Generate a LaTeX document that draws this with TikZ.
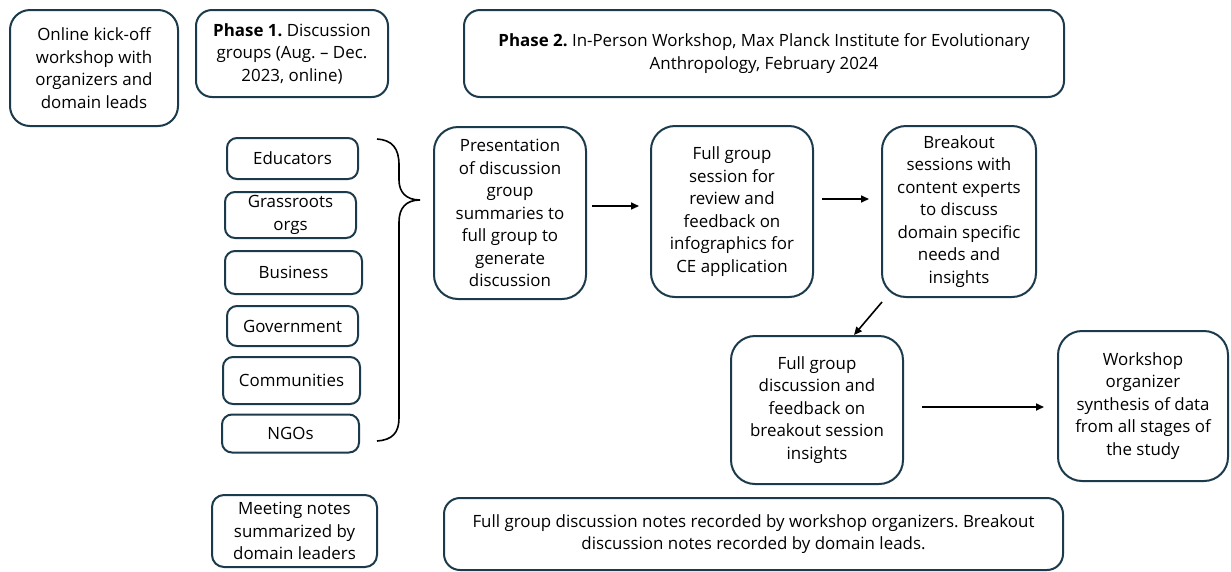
\documentclass[tikz,border=0pt]{standalone}
\usepackage{fontspec}
\setmainfont{Open Sans}
\usetikzlibrary{arrows.meta}
\definecolor{bc}{HTML}{1B3A4B}
\frenchspacing
\tikzset{
  box/.style={draw=bc, line width=2pt, rounded corners=20pt, align=center, inner sep=0pt,
    font=\fontsize{16.9}{22.5}\selectfont},
  sbox/.style={box, rounded corners=10pt},
  arr/.style={line width=1.6pt, -{Triangle[length=8pt,width=7pt]}}
}
\begin{document}
\begin{tikzpicture}[x=1pt,y=-1pt]
\useasboundingbox (0,0) rectangle (1231,571);
\node[box, minimum width=168, minimum height=116] (kick) at (94,68) {Online kick-off\\workshop with\\organizers and\\domain leads};
\node[box, rounded corners=16pt, minimum width=192, minimum height=87] (ph1) at (292,53.5) {\textbf{Phase 1.} Discussion\\groups (Aug. – Dec.\\2023, online)};
\node[box, rounded corners=16pt, minimum width=600, minimum height=87] (ph2) at (764,53.5) {\textbf{Phase 2.} In-Person Workshop, Max Planck Institute for Evolutionary\\Anthropology, February 2024};
\node[sbox, minimum width=131, minimum height=41] (edu) at (292.5,158.5) {Educators};
\node[sbox, minimum width=131, minimum height=46] (grass) at (290.5,215) {Grassroots\\orgs};
\node[sbox, minimum width=137, minimum height=43] (bus) at (293.5,272.5) {Business};
\node[sbox, minimum width=131, minimum height=40] (gov) at (292.5,326) {Government};
\node[sbox, minimum width=137, minimum height=47] (comm) at (291.5,380.5) {Communities};
\node[sbox, minimum width=137, minimum height=38] (ngo) at (290.5,433.5) {NGOs};
\node[box, rounded corners=24pt, minimum width=152, minimum height=172] (pres) at (510,213) {Presentation\\of discussion\\group\\summaries to\\full group to\\generate\\discussion};
\node[box, rounded corners=24pt, minimum width=162, minimum height=171] (fgs) at (732,211.5) {Full group\\session for\\review and\\feedback on\\infographics for\\CE application};
\node[box, rounded corners=24pt, minimum width=154, minimum height=171] (brk) at (959,211.5) {Breakout\\sessions with\\content experts\\to discuss\\domain specific\\needs and\\insights};
\node[box, rounded corners=24pt, minimum width=172, minimum height=148] (fgd) at (817,410) {Full group\\discussion and\\feedback on\\breakout session\\insights};
\node[box, rounded corners=24pt, minimum width=170, minimum height=150] (wso) at (1143,406) {Workshop\\organizer\\synthesis of data\\from all stages of\\the study};
\node[box, rounded corners=12pt, minimum width=165, minimum height=72] (meet) at (294.5,531) {Meeting notes\\summarized by\\domain leaders};
\node[box, rounded corners=16pt, minimum width=619, minimum height=72] (fgn) at (753.5,534) {Full group discussion notes recorded by workshop organizers. Breakout\\discussion notes recorded by domain leads.};
% brace
\draw[line width=1.6pt, black] (377,139) .. controls (392,140) and (399,148) .. (399,165)
  -- (399,180) .. controls (399,192) and (406,200) .. (420,200)
  .. controls (406,200) and (399,208) .. (399,222)
  -- (399,418) .. controls (399,433) and (392,440) .. (377,441);
% arrows
\coordinate (a1s) at (592,206); \coordinate (a1e) at (639,206);
\coordinate (a2s) at (822,199); \coordinate (a2e) at (869,199);
\coordinate (a3s) at (882,302); \coordinate (a3e) at (854,335);
\coordinate (a4s) at (922,407); \coordinate (a4e) at (1044,407);
\draw[arr] (a1s) -- (a1e);
\draw[arr] (a2s) -- (a2e);
\draw[arr] (a3s) -- (a3e);
\draw[arr] (a4s) -- (a4e);
\end{tikzpicture}
\end{document}
